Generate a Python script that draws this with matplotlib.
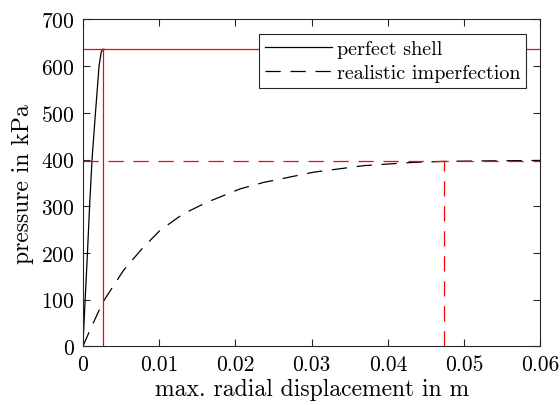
import matplotlib
matplotlib.use("Agg")
import matplotlib.pyplot as plt

plt.rcParams['font.family'] = 'serif'
plt.rcParams['font.serif'] = ['cmr10', 'DejaVu Serif']
plt.rcParams['mathtext.fontset'] = 'cm'
plt.rcParams['axes.unicode_minus'] = False
plt.rcParams['axes.formatter.use_mathtext'] = True
plt.rcParams['lines.scale_dashes'] = False

# perfect shell
perf_x = [0, 0.0003, 0.0006, 0.00088, 0.0012, 0.00165, 0.00212, 0.0024, 0.0026, 0.0028]
perf_y = [0, 100, 200, 300, 400, 500, 600, 630, 636, 636]

# realistic imperfection
imp_x = [0, 0.001, 0.0026, 0.0053, 0.0077, 0.0101, 0.0131, 0.0162, 0.0206,
         0.0237, 0.0303, 0.0369, 0.0434, 0.0474, 0.052, 0.06]
imp_y = [0, 37, 94, 162, 208, 248, 283, 308, 337, 351, 373, 387, 394, 396, 397, 398]

# reference (limit) lines
perf_limit_x = 0.00268
perf_limit_y = 636
imp_limit_x = 0.0473
imp_limit_y = 396

xticks = [0, 0.01, 0.02, 0.03, 0.04, 0.05, 0.06]
xticklabels = ['0', '0.01', '0.02', '0.03', '0.04', '0.05', '0.06']
yticks = [0, 100, 200, 300, 400, 500, 600, 700]

fig = plt.figure(figsize=(5.6, 4.06), dpi=100)
ax = fig.add_axes([0.148, 0.1446, 0.817, 0.805])

lw = 0.9
dash = (0, (11, 7))
ax.plot(perf_x, perf_y, color='black', lw=lw, label='perfect shell')
ax.plot(imp_x, imp_y, color='black', lw=lw, linestyle=dash, label='realistic imperfection')

ax.axhline(perf_limit_y, color='red', lw=lw)
ax.plot([perf_limit_x, perf_limit_x], [0, perf_limit_y], color='red', lw=lw)
ax.axhline(imp_limit_y, color='red', lw=lw, linestyle=dash)
ax.plot([imp_limit_x, imp_limit_x], [0, imp_limit_y], color='red', lw=lw, linestyle=dash)

ax.set_xlim(0, 0.06)
ax.set_ylim(0, 700)
ax.set_xticks(xticks)
ax.set_xticklabels(xticklabels)
ax.set_yticks(yticks)

spine_col = '#262626'
for s in ax.spines.values():
    s.set_color(spine_col)
    s.set_linewidth(0.8)
ax.tick_params(direction='in', top=True, right=True, length=5, width=0.8,
               color=spine_col, labelsize=15.5, pad=6)

ax.set_xlabel('max. radial displacement in m', fontsize=17, labelpad=3)
ax.set_ylabel('pressure in kPa', fontsize=17, labelpad=5)

leg = ax.legend(loc='upper right', fontsize=14.5, frameon=True, fancybox=False,
                edgecolor=spine_col, framealpha=1, handlelength=3.3,
                borderaxespad=0.7, borderpad=0.3, labelspacing=0.3,
                handletextpad=0.25)
leg.get_frame().set_linewidth(0.8)

fig.savefig('out.png', dpi=100)
